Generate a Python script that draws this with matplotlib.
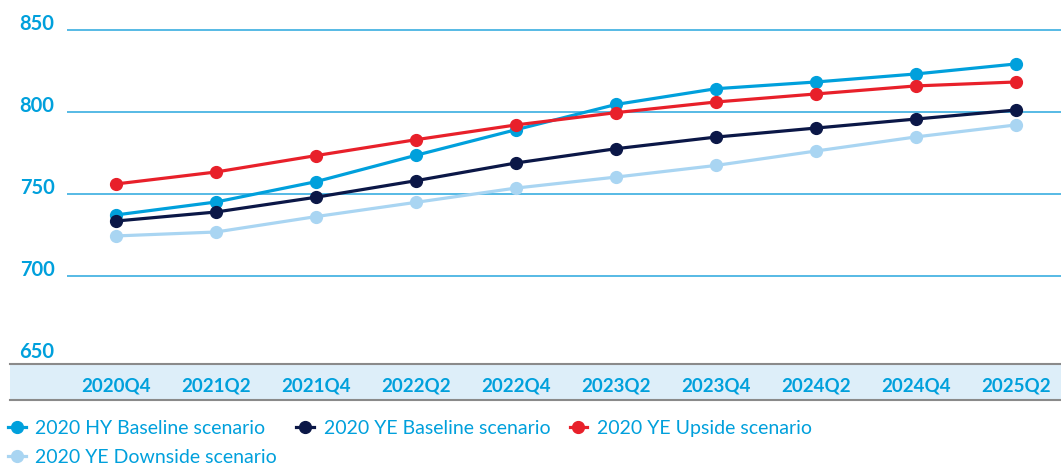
import matplotlib
matplotlib.use("Agg")
import matplotlib.pyplot as plt
from matplotlib.lines import Line2D
from matplotlib.patches import Rectangle

quarters = ["2020Q4", "2021Q2", "2021Q4", "2022Q2", "2022Q4",
            "2023Q2", "2023Q4", "2024Q2", "2024Q4", "2025Q2"]

hy_baseline = [737.2, 745.1, 757.5, 773.6, 789.2, 804.6, 814.2, 818.3, 823.2, 829.3]
ye_baseline = [733.5, 739.0, 748.0, 758.1, 768.9, 777.6, 784.7, 790.2, 795.7, 801.2]
ye_upside = [756.1, 763.4, 773.4, 783.1, 792.1, 799.6, 806.1, 811.0, 815.9, 818.3]
ye_downside = [724.4, 726.8, 736.2, 744.9, 753.6, 760.3, 767.4, 776.2, 784.8, 792.1]

yticks = [650, 700, 750, 800, 850]

BLUE = "#00a0dc"
NAVY = "#0b1747"
RED = "#e8202a"
LIGHT = "#a9d5f2"
GRID = "#3aaee0"

plt.rcParams["font.family"] = ["Lato", "DejaVu Sans"]

W, H = 1061, 470
fig = plt.figure(figsize=(W / 100, H / 100), dpi=100)

# plot area in pixels: x 67..1061, y 20..364 (from top)
ax = fig.add_axes([67 / W, (H - 364) / H, (W - 67) / W, 344 / H])
ax.set_xlim(-0.49, 9.45)
ax.set_ylim(646.3, 856.1)
ax.patch.set_alpha(0)

for v in yticks[1:]:
    ax.axhline(v, color=GRID, lw=1.2, zorder=1)

series = [
    ("2020 HY Baseline scenario", hy_baseline, BLUE),
    ("2020 YE Baseline scenario", ye_baseline, NAVY),
    ("2020 YE Upside scenario", ye_upside, RED),
    ("2020 YE Downside scenario", ye_downside, LIGHT),
]
x = list(range(len(quarters)))
handles = {}
for name, vals, col in series:
    ln, = ax.plot(x, vals, color=col, lw=2.3, marker="o", markersize=8.5,
                  zorder=3, label=name)
    handles[name] = ln

for s in ax.spines.values():
    s.set_visible(False)

ax.set_yticks(yticks)
ax.set_yticklabels([str(v) for v in yticks])
ax.tick_params(axis="y", length=0, pad=9, labelsize=14.5, labelcolor=BLUE)
for lbl in ax.get_yticklabels():
    lbl.set_fontweight("bold")
    lbl.set_va("baseline")

ax.set_xticks(x)
ax.set_xticklabels(quarters)
ax.tick_params(axis="x", length=0, pad=10, labelsize=13.5, labelcolor=BLUE)
for lbl in ax.get_xticklabels():
    lbl.set_fontweight("bold")

# shaded band behind the category labels
band = Rectangle((10 / W, (H - 400) / H), (W - 10) / W, 36 / H,
                 transform=fig.transFigure, facecolor="#ddeef9",
                 edgecolor="none", zorder=-2)
fig.patches.append(band)
for yy in (364, 400):
    fig.add_artist(Line2D([10 / W, 1], [(H - yy) / H] * 2,
                          transform=fig.transFigure, color="#8a8a8a",
                          lw=1.5, zorder=-1))

order = ["2020 HY Baseline scenario", "2020 YE Downside scenario",
         "2020 YE Baseline scenario", "2020 YE Upside scenario"]
leg = fig.legend([handles[n] for n in order], order, ncol=3,
                 loc="upper left", bbox_to_anchor=(8 / W, (H - 420) / H),
                 frameon=False, fontsize=14, handlelength=0.9,
                 handletextpad=0.5, columnspacing=1.0, labelspacing=0.62,
                 borderaxespad=0, borderpad=0)
for t in leg.get_texts():
    t.set_color(BLUE)

fig.savefig("out.png", dpi=100)
